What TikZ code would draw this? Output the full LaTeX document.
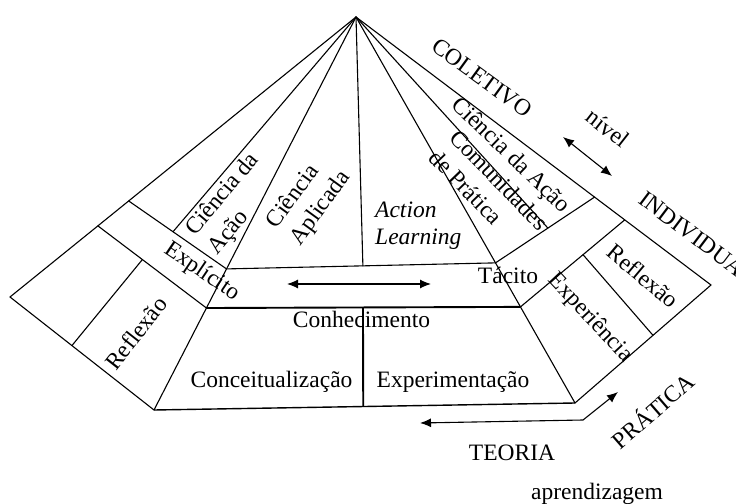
\documentclass[tikz,border=0pt]{standalone}
\usepackage{fontspec}
\setmainfont{Liberation Serif}
\usetikzlibrary{calc,arrows.meta}
\begin{document}
\begin{tikzpicture}[x=1bp,y=-1bp,
  ln/.style={line width=1.1bp, line cap=round, line join=round},
  thk/.style={line width=1.9bp},
  base/.style={line width=1.4bp},
  dbl/.style={line width=1.1bp, {Latex[length=11bp,width=9bp]}-{Latex[length=11bp,width=9bp]}},
  lbl/.style={inner sep=0pt, font=\fontsize{23.5bp}{29bp}\selectfont},
]
\useasboundingbox (0,0) rectangle (736,504);
% main points
\coordinate (A) at (356,17);
\coordinate (L) at (10,297);
\coordinate (BL) at (154,410);
\coordinate (BR) at (575,403);
\coordinate (R) at (711,285);
\coordinate (P1) at ($(A)!0.746!(L)$);
\coordinate (P2) at ($(A)!0.657!(L)$);
\coordinate (E1) at ($(A)!0.641!(BL)$);
\coordinate (E2) at ($(A)!0.7405!(BL)$);
\coordinate (F1) at ($(A)!0.637!(BR)$);
\coordinate (F2) at ($(A)!0.751!(BR)$);
\coordinate (G1) at ($(A)!0.672!(R)$);
\coordinate (G2) at ($(A)!0.757!(R)$);
\coordinate (Q1) at ($(P2)!0.453!(E1)$);
\coordinate (H) at ($(F1)!0.529!(G1)$);
\coordinate (M1) at ($(E1)!0.507!(F1)$);
\coordinate (M2) at ($(E2)!0.4985!(F2)$);
\coordinate (M3) at ($(BL)!0.497!(BR)$);
\coordinate (K1) at ($(P1)!0.41!(E2)$);
\coordinate (K2) at ($(L)!0.43!(BL)$);
\coordinate (J1) at ($(F2)!0.6!(G2)$);
\coordinate (J2) at ($(R)!0.4265!(BR)$);
% pyramid lines
\draw[ln] (L) -- (A) -- (R);
\draw[ln] (L) -- (BL);
\draw[ln] (BR) -- (R);
\draw[base] (BL) -- (BR);
\draw[ln] (A) -- (BL);
\draw[ln] (A) -- (BR);
\draw[ln] (A) -- (Q1);
\draw[ln] (A) -- (M1);
\draw[ln] (A) -- (H);
\draw[ln] (P2) -- (E1);
\draw[ln] (P1) -- (E2);
\draw[ln] (F1) -- (G1);
\draw[ln] (F2) -- (G2);
\draw[ln] (E1) -- (F1);
\draw[thk] (E2) -- (F2);
\draw[thk] (M2) -- (M3);
\draw[ln] (K1) -- (K2);
\draw[ln] (J1) -- (J2);
% arrows
\coordinate (da1) at (287,284);
\coordinate (da2) at (431,284);
\draw[dbl] (da1) -- (da2);
\coordinate (na1) at (563,137);
\coordinate (na2) at (612,176);
\draw[dbl] (na1) -- (na2);
\coordinate (ta) at (420,423);
\coordinate (tb) at (583,420);
\coordinate (tc) at (618,392);
\draw[dbl] (ta) -- (tb) -- (tc);
% labels
\node[lbl, rotate=50, align=left] (cal) at (234,204) {Ciência da\\Ação};
\node[lbl, rotate=54, align=left] (cap) at (309,200) {Ciência\\Aplicada};
\node[lbl, anchor=north west, align=left, font=\itshape\fontsize{23.5bp}{27bp}\selectfont] (al) at (375,202) {Action\\Learning};
\node[lbl, rotate=-46, align=left] (cdp) at (489,190) {Comunidades\\de Prática};
\node[lbl, rotate=-44] (car) at (510,156) {Ciência da Ação};
\node[lbl, rotate=-34] (exp) at (202,272) {Explícito};
\node[lbl, anchor=base] (tac) at (508,283.5) {Tácito};
\node[lbl, anchor=base] (con) at (361.5,327) {Conhecimento};
\node[lbl, anchor=base] (cct) at (271.5,387) {Conceitualização};
\node[lbl, anchor=base] (exm) at (453,387.5) {Experimentação};
\node[lbl, rotate=52] (rfl) at (136,333) {Reflexão};
\node[lbl, rotate=-40] (rfr) at (643,276) {Reflexão};
\node[lbl, rotate=-47] (epc) at (590,318) {Experiência};
\node[lbl, rotate=-36] (col) at (482,78) {COLETIVO};
\node[lbl, rotate=-38] (niv) at (608,128) {nível};
\node[lbl, rotate=-37, anchor=base west] (ind) at (637,202) {INDIVIDUAL};
\node[lbl, rotate=41] (pra) at (652,410) {PRÁTICA};
\node[lbl, anchor=base] (teo) at (512,460) {TEORIA};
\node[lbl, anchor=base] (apr) at (597,499) {aprendizagem};
\end{tikzpicture}
\end{document}
